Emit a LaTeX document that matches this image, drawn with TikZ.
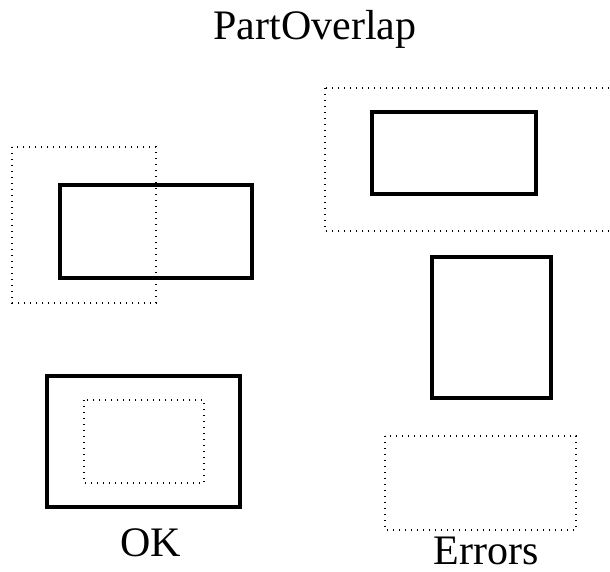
\documentclass[tikz,border=0pt]{standalone}
\usepackage{fontspec}
\setmainfont{Liberation Serif}
\begin{document}
\begin{tikzpicture}[x=1pt,y=-1pt,
    solidbox/.style={line width=4pt},
    dotbox/.style={line width=1.3pt,dash pattern=on 1.3pt off 4.7pt},
    lbl/.style={font=\fontsize{42}{42}\selectfont,inner sep=0pt,anchor=base}]
  \useasboundingbox (0,0) rectangle (610,572);
  \node[lbl] (title) at (315,40) {PartOverlap};
  % partly overlapping pair
  \draw[dotbox] (12,147) rectangle (156,303);
  \draw[solidbox] (60,185) rectangle (252,278);
  % nested pair
  \draw[solidbox] (47,376) rectangle (240,507);
  \draw[dotbox] (84,400) rectangle (204,483);
  \node[lbl] (ok) at (151,556) {OK};
  % error cases
  \draw[dotbox] (325,88) rectangle (612,231);
  \draw[solidbox] (372,112) rectangle (536,194);
  \draw[solidbox] (432,257) rectangle (551,398);
  \draw[dotbox] (385,436) rectangle (576,530);
  \node[lbl] (errors) at (486,564) {Errors};
\end{tikzpicture}
\end{document}
